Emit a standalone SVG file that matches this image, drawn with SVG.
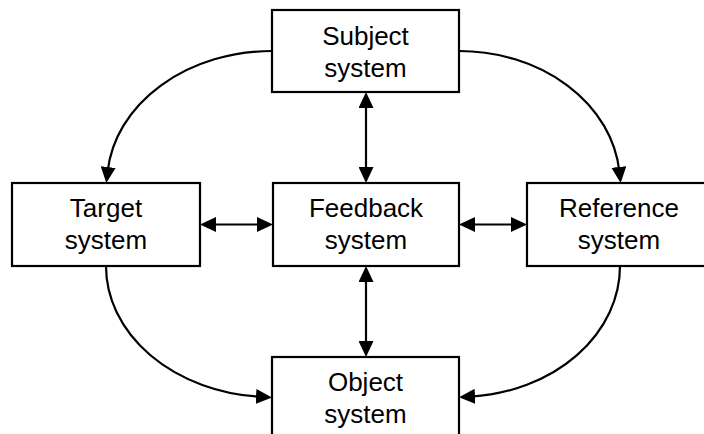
<svg xmlns="http://www.w3.org/2000/svg" width="704" height="434" viewBox="0 0 704 434">
  <style>
    .box { fill: #ffffff; stroke: #000000; stroke-width: 2.2; }
    .lbl { font-family: "Liberation Sans", Arial, Helvetica, sans-serif; font-size: 26px; fill: #000000; text-anchor: middle; }
    .conn { fill: none; stroke: #000000; stroke-width: 2.2; }
  </style>
  <defs>
    <marker id="ah" markerUnits="userSpaceOnUse" markerWidth="16" markerHeight="15" viewBox="0 0 16 15" refX="4" refY="7.5" orient="auto-start-reverse">
      <path d="M0,0 L16,7.5 L0,15 z" fill="#000000"/>
    </marker>
  </defs>
  <rect width="704" height="434" fill="#ffffff"/>
  <g id="connectors">
    <path class="conn" d="M366,104 L366,171" marker-start="url(#ah)" marker-end="url(#ah)"/>
    <path class="conn" d="M366,278 L366,345" marker-start="url(#ah)" marker-end="url(#ah)"/>
    <path class="conn" d="M212,224.5 L261,224.5" marker-start="url(#ah)" marker-end="url(#ah)"/>
    <path class="conn" d="M471,224.5 L515,224.5" marker-start="url(#ah)" marker-end="url(#ah)"/>
    <path class="conn" d="M272,51 A165,132 0 0 0 107.7,171" marker-end="url(#ah)"/>
    <path class="conn" d="M459,51 A161,132 0 0 1 619.3,171" marker-end="url(#ah)"/>
    <path class="conn" d="M106,266 A166,131 0 0 0 260,396.7" marker-end="url(#ah)"/>
    <path class="conn" d="M620,266 A161,131 0 0 1 471,396.6" marker-end="url(#ah)"/>
  </g>
  <g id="subject">
    <rect class="box" x="272" y="10" width="187" height="82"/>
    <text class="lbl" x="365.5" y="45">Subject</text>
    <text class="lbl" x="365.5" y="77">system</text>
  </g>
  <g id="target">
    <rect class="box" x="12" y="183" width="188" height="83"/>
    <text class="lbl" x="106" y="217">Target</text>
    <text class="lbl" x="106" y="249">system</text>
  </g>
  <g id="feedback">
    <rect class="box" x="273" y="183" width="186" height="83"/>
    <text class="lbl" x="366" y="217">Feedback</text>
    <text class="lbl" x="366" y="249">system</text>
  </g>
  <g id="reference">
    <rect class="box" x="527" y="183" width="187" height="83"/>
    <text class="lbl" x="619" y="217">Reference</text>
    <text class="lbl" x="619" y="249">system</text>
  </g>
  <g id="object">
    <rect class="box" x="272" y="357" width="187" height="83"/>
    <text class="lbl" x="365.5" y="391">Object</text>
    <text class="lbl" x="365.5" y="423">system</text>
  </g>
</svg>
